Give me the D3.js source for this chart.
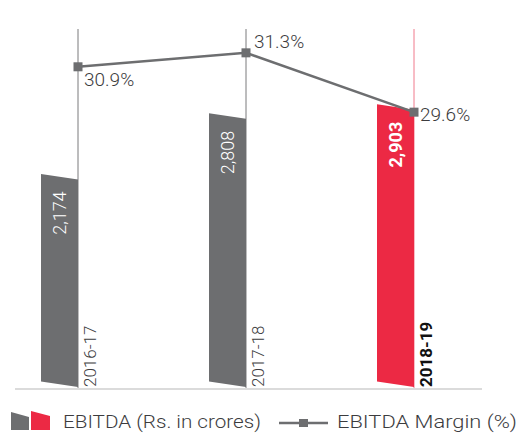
<!DOCTYPE html>
<html>
<head>
<meta charset="utf-8">
<script src="https://cdn.jsdelivr.net/npm/d3@7"></script>
<style>
  html, body { margin: 0; padding: 0; background: #fff; }
  svg { display: block; }
  text { font-family: Roboto, "Noto Sans", sans-serif; }
</style>
</head>
<body>
<svg id="chart" width="525" height="434"></svg>
<script>
const categories = ["2016-17", "2017-18", "2018-19"];
const ebitda = [2174, 2808, 2903];
const ebitdaLabels = ["2,174", "2,808", "2,903"];
const margin = [30.9, 31.3, 29.6];
const marginLabels = ["30.9%", "31.3%", "29.6%"];
const legendLabels = ["EBITDA (Rs. in crores)", "EBITDA Margin (%)"];

const GRAY = "#6d6e70", RED = "#ec2944", TEXT = "#3c3c3e";
const svg = d3.select("#chart");

const x = d3.scalePoint().domain(categories).range([78, 414]);
const y = d3.scaleLinear().domain([0, 3000]).range([387, 100.5]);
const yM = d3.scaleLinear().domain([28, 32]).range([168, 28.4]);
const barW = 37, slant = 5.5;
const isLast = (i) => i === categories.length - 1;

// vertical guide lines
svg.selectAll("line.guide").data(categories).join("line")
  .attr("x1", d => x(d)).attr("x2", d => x(d))
  .attr("y1", 29).attr("y2", 388)
  .attr("stroke", (d, i) => isLast(i) ? "#f07a8c" : "#7a7a7c")
  .attr("stroke-width", 1);

// baseline
svg.append("line").attr("x1", 15).attr("x2", 482).attr("y1", 389).attr("y2", 389)
  .attr("stroke", "#cfcfcf").attr("stroke-width", 1.5);

// bars (slanted)
svg.selectAll("path.bar").data(ebitda).join("path")
  .attr("d", (v, i) => {
    const xr = x(categories[i]), xl = xr - barW;
    const yt = y(v), y0 = y(0);
    return `M${xl},${yt - slant} L${xr},${yt} L${xr},${y0} L${xl},${y0 - slant} Z`;
  })
  .attr("fill", (v, i) => isLast(i) ? RED : GRAY);

// value labels inside bars
svg.selectAll("text.val").data(ebitda).join("text")
  .attr("transform", (v, i) => `translate(${x(categories[i]) - barW / 2},${y(v) + 12}) rotate(-90)`)
  .attr("text-anchor", "end").attr("dy", "0.36em")
  .attr("fill", "#fff").attr("font-size", 18)
  .attr("font-weight", (v, i) => isLast(i) ? 700 : 300)
  .text((v, i) => ebitdaLabels[i]);

// category labels
svg.selectAll("text.cat").data(categories).join("text")
  .attr("transform", d => `translate(${x(d) + 18},387) rotate(-90)`)
  .attr("text-anchor", "start")
  .attr("fill", (d, i) => isLast(i) ? "#111" : TEXT).attr("font-size", 17)
  .attr("font-weight", (d, i) => isLast(i) ? 700 : 300)
  .text(d => d);

// margin line
const line = d3.line().x((m, i) => x(categories[i])).y(m => yM(m));
svg.append("path").datum(margin).attr("d", line)
  .attr("fill", "none").attr("stroke", GRAY).attr("stroke-width", 2.5);

svg.selectAll("rect.mk").data(margin).join("rect")
  .attr("x", (m, i) => x(categories[i]) - 4.5).attr("y", m => yM(m) - 4.5)
  .attr("width", 9).attr("height", 9).attr("fill", GRAY);

const labelDx = [6, 8, 6], labelDy = [19, -5, 9];
svg.selectAll("text.pct").data(margin).join("text")
  .attr("x", (m, i) => x(categories[i]) + labelDx[i])
  .attr("y", (m, i) => yM(m) + labelDy[i])
  .attr("fill", TEXT).attr("font-size", 19).attr("font-weight", 300)
  .text((m, i) => marginLabels[i]);

// legend
const lg = svg.append("g");
lg.append("path").attr("d", "M11,412 L29,417 L29,430 L11,430 Z").attr("fill", GRAY);
lg.append("path").attr("d", "M31,411 L50,416 L50,430 L31,430 Z").attr("fill", RED);
lg.append("text").attr("x", 63).attr("y", 428).attr("font-size", 18).attr("font-weight", 300)
  .attr("textLength", 198).attr("lengthAdjust", "spacingAndGlyphs")
  .attr("fill", TEXT).text(legendLabels[0]);
lg.append("line").attr("x1", 279).attr("x2", 328).attr("y1", 423).attr("y2", 423)
  .attr("stroke", GRAY).attr("stroke-width", 2.5);
lg.append("rect").attr("x", 299).attr("y", 419).attr("width", 9).attr("height", 8).attr("fill", GRAY);
lg.append("text").attr("x", 337).attr("y", 428).attr("font-size", 18).attr("font-weight", 300)
  .attr("textLength", 180).attr("lengthAdjust", "spacingAndGlyphs")
  .attr("fill", TEXT).text(legendLabels[1]);
</script>
</body>
</html>
